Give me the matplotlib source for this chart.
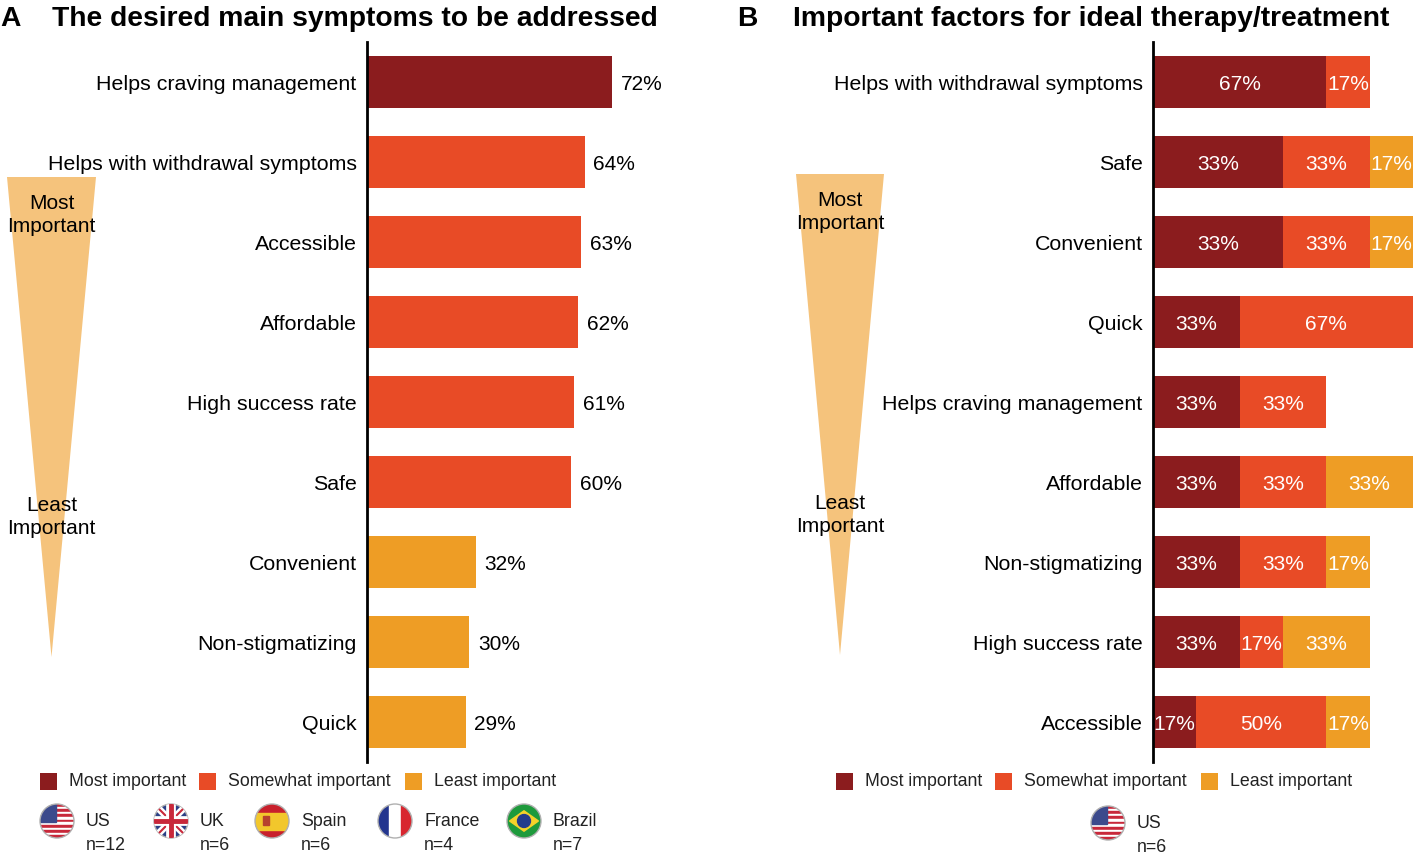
import matplotlib
matplotlib.use("Agg")
import matplotlib.pyplot as plt
import numpy as np
from matplotlib.patches import Circle, Rectangle, Polygon

plt.rcParams['font.family'] = ['Liberation Sans', 'DejaVu Sans']

# Panel A data
a_labels = ["Helps craving management", "Helps with withdrawal symptoms", "Accessible",
            "Affordable", "High success rate", "Safe", "Convenient",
            "Non-stigmatizing", "Quick"]
a_values = [72, 64, 63, 62, 61, 60, 32, 30, 29]
a_tier = [0, 1, 1, 1, 1, 1, 2, 2, 2]

# Panel B data (segment widths in respondents out of n=6, as drawn; labels as printed)
b_labels = ["Helps with withdrawal symptoms", "Safe", "Convenient", "Quick",
            "Helps craving management", "Affordable", "Non-stigmatizing",
            "High success rate", "Accessible"]
b_most = [4, 3, 3, 2, 2, 2, 2, 2, 1]
b_some = [1, 2, 2, 4, 2, 2, 2, 1, 3]
b_least = [0, 1, 1, 0, 0, 2, 1, 2, 1]
b_most_txt = ["67%", "33%", "33%", "33%", "33%", "33%", "33%", "33%", "17%"]
b_some_txt = ["17%", "33%", "33%", "67%", "33%", "33%", "33%", "17%", "50%"]
b_least_txt = ["", "17%", "17%", "", "", "33%", "17%", "33%", "17%"]

legend_names = ["Most important", "Somewhat important", "Least important"]
countries_a = ["US", "UK", "Spain", "France", "Brazil"]
n_a = [12, 6, 6, 4, 7]

colors = ["#8B1C1E", "#E84B26", "#EE9D25"]
tri_color = "#F5C37C"

W, H = 1417, 859
fig = plt.figure(figsize=(W / 100, H / 100), dpi=100)


def px_axes(x0, y0, x1, y1):
    return fig.add_axes([x0 / W, 1 - y1 / H, (x1 - x0) / W, (y1 - y0) / H])


# overlay axes in pixel coordinates for decorations
ov = fig.add_axes([0, 0, 1, 1])
ov.set_xlim(0, W)
ov.set_ylim(H, 0)
ov.axis("off")

# ---- Panel A ----
axA = px_axes(367, 42, 707, 762)
y = np.arange(len(a_labels))
axA.barh(y, a_values, height=0.65, color=[colors[t] for t in a_tier])
for yi, v in zip(y, a_values):
    axA.text(v + 2.6, yi, f"{v}%", va="center_baseline", ha="left", fontsize=15)
axA.set_xlim(0, 100)
axA.set_ylim(len(a_labels) - 0.5, -0.5)
axA.set_yticks(y)
axA.set_yticklabels(a_labels, fontsize=15.4, va="center_baseline")
axA.tick_params(axis="y", length=0, pad=7.5)
axA.set_xticks([])
for s in ["top", "right", "bottom"]:
    axA.spines[s].set_visible(False)
axA.spines["left"].set_linewidth(2)

# ---- Panel B ----
axB = px_axes(1153, 42, 1413, 762)
yb = np.arange(len(b_labels))
left = np.zeros(len(b_labels))
for vals, txts, c in zip([b_most, b_some, b_least],
                         [b_most_txt, b_some_txt, b_least_txt], colors):
    vals = np.array(vals, dtype=float)
    axB.barh(yb, vals, left=left, height=0.65, color=c)
    for yi, l, v, t in zip(yb, left, vals, txts):
        if v > 0:
            axB.text(l + v / 2, yi, t, va="center_baseline", ha="center",
                     color="white", fontsize=15)
    left = left + vals
axB.set_xlim(0, 6)
axB.set_ylim(len(b_labels) - 0.5, -0.5)
axB.set_yticks(yb)
axB.set_yticklabels(b_labels, fontsize=15.4, va="center_baseline")
axB.tick_params(axis="y", length=0, pad=7.5)
axB.set_xticks([])
for s in ["top", "right", "bottom"]:
    axB.spines[s].set_visible(False)
axB.spines["left"].set_linewidth(2)

# ---- titles ----
ov.text(0, 19, "A", fontsize=20.3, fontweight="bold", va="center", ha="left")
ov.text(52, 19, "The desired main symptoms to be addressed", fontsize=20.3,
        fontweight="bold", va="center", ha="left")
ov.text(737, 19, "B", fontsize=20.3, fontweight="bold", va="center", ha="left")
ov.text(793, 19, "Important factors for ideal therapy/treatment", fontsize=20.3,
        fontweight="bold", va="center", ha="left")

# ---- importance funnels ----
for (x0, x1, top, apex, ym, yl) in [(7, 96, 177, 657, 215, 517),
                                    (796, 884, 174, 655, 212, 515)]:
    ov.add_patch(Polygon([(x0, top), (x1, top), ((x0 + x1) / 2, apex)],
                         closed=True, color=tri_color, lw=0))
    cx = (x0 + x1) / 2
    ov.text(cx, ym, "Most\nImportant", ha="center", va="center", fontsize=15,
            linespacing=1.25)
    ov.text(cx, yl, "Least\nImportant", ha="center", va="center", fontsize=15,
            linespacing=1.25)

# ---- colour legends ----
for lx, offs in [(40, [0, 159, 365]), (836, [0, 159, 365])]:
    for name, c, o in zip(legend_names, colors, offs):
        ov.add_patch(Rectangle((lx + o, 773), 17, 17, color=c, lw=0))
        ov.text(lx + o + 29, 782, name, va="center", ha="left", fontsize=12.8,
                color="#222222")


# ---- flags ----
def flag(cx, cy, r, kind):
    clip = Circle((cx, cy), r, transform=ov.transData)
    parts = []
    if kind == "US":
        for i in range(13):
            h = 2 * r / 13
            parts.append(Rectangle((cx - r, cy - r + i * h), 2 * r, h,
                                   color="#C8283A" if i % 2 == 0 else "white"))
        parts.append(Rectangle((cx - r, cy - r), r * 0.95, r * 1.08, color="#3C4A8C"))
    elif kind == "UK":
        parts.append(Rectangle((cx - r, cy - r), 2 * r, 2 * r, color="#2B3F86"))
        for a in [45, -45]:
            t = np.radians(a)
            dx, dy = np.cos(t) * 2 * r, np.sin(t) * 2 * r
            ov.plot([cx - dx, cx + dx], [cy - dy, cy + dy], color="white", lw=5,
                    solid_capstyle="butt", clip_path=clip)
            ov.plot([cx - dx, cx + dx], [cy - dy, cy + dy], color="#C8283A", lw=1.5,
                    solid_capstyle="butt", clip_path=clip)
        ov.plot([cx - r, cx + r], [cy, cy], color="white", lw=7, clip_path=clip)
        ov.plot([cx, cx], [cy - r, cy + r], color="white", lw=7, clip_path=clip)
        ov.plot([cx - r, cx + r], [cy, cy], color="#C8283A", lw=3.5, clip_path=clip)
        ov.plot([cx, cx], [cy - r, cy + r], color="#C8283A", lw=3.5, clip_path=clip)
    elif kind == "Spain":
        parts.append(Rectangle((cx - r, cy - r), 2 * r, 2 * r, color="#C8202C"))
        parts.append(Rectangle((cx - r, cy - r / 2), 2 * r, r, color="#F2C72C"))
        parts.append(Rectangle((cx - r * 0.55, cy - r * 0.3), r * 0.35, r * 0.55,
                               color="#B7412E"))
    elif kind == "France":
        parts.append(Rectangle((cx - r, cy - r), 2 * r / 3, 2 * r, color="#23358E"))
        parts.append(Rectangle((cx - r / 3, cy - r), 2 * r / 3, 2 * r, color="white"))
        parts.append(Rectangle((cx + r / 3, cy - r), 2 * r / 3, 2 * r, color="#D8262F"))
    elif kind == "Brazil":
        parts.append(Rectangle((cx - r, cy - r), 2 * r, 2 * r, color="#1E9A3C"))
        parts.append(Polygon([(cx - r * 0.85, cy), (cx, cy - r * 0.6),
                              (cx + r * 0.85, cy), (cx, cy + r * 0.6)],
                             color="#F6D22A"))
        parts.append(Circle((cx, cy), r * 0.38, color="#243C8C"))
    for p in parts:
        ov.add_patch(p)
        p.set_clip_path(clip)
    ov.add_patch(Circle((cx, cy), r, fill=False, ec="#B0B0B0", lw=1))


flag_x = [57, 171, 272, 395, 524]
for fx, name, n in zip(flag_x, countries_a, n_a):
    flag(fx, 821, 17, name)
    ov.text(fx + 29, 821, name, va="center", ha="left", fontsize=12.8,
            color="#222222")
    ov.text(fx + 29, 846, f"n={n}", va="center", ha="left", fontsize=12.8,
            color="#222222")

flag(1108, 823, 17, "US")
ov.text(1137, 823, "US", va="center", ha="left", fontsize=12.8, color="#222222")
ov.text(1137, 848, "n=6", va="center", ha="left", fontsize=12.8, color="#222222")

fig.savefig("out.png", dpi=100)
